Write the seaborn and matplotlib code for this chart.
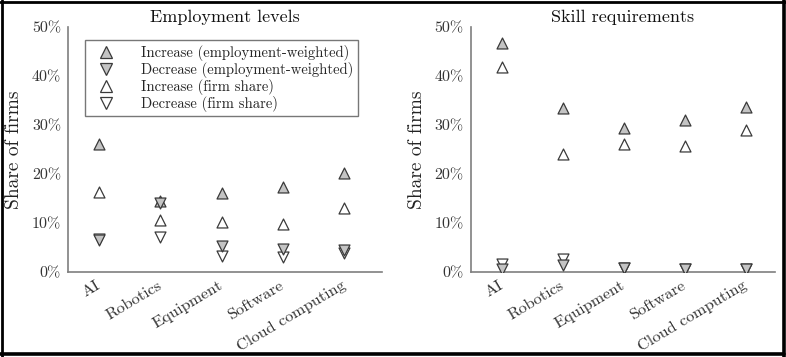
import matplotlib
matplotlib.use("Agg")
import matplotlib.pyplot as plt
import matplotlib.lines as mlines
import numpy as np
import pandas as pd
import seaborn as sns

sns.set_theme(style="white")
plt.rcParams['font.family'] = ['cmr10', 'DejaVu Serif']
plt.rcParams['mathtext.fontset'] = 'cm'
plt.rcParams['axes.unicode_minus'] = False

categories = ['AI', 'Robotics', 'Equipment', 'Software', 'Cloud computing']
yticks = [0, 10, 20, 30, 40, 50]
ytick_labels = ['0%', '10%', '20%', '30%', '40%', '50%']

# employment levels panel (% of firms)
emp_inc_w = [26.2, 14.5, 16.1, 17.3, 20.3]
emp_dec_w = [6.6, 14.1, 5.3, 4.7, 4.6]
emp_inc_f = [16.3, 10.6, 10.2, 9.9, 13.0]
emp_dec_f = [6.7, 7.2, 3.3, 3.1, 3.8]

# skill requirements panel (% of firms)
sk_inc_w = [46.7, 33.4, 29.5, 31.0, 33.6]
sk_dec_w = [0.7, 1.4, 0.9, 0.7, 0.6]
sk_inc_f = [41.9, 24.0, 26.2, 25.8, 29.1]
sk_dec_f = [1.7, 2.6, 0.9, 0.7, 0.6]

series_names = ['Increase (employment-weighted)', 'Decrease (employment-weighted)',
                'Increase (firm share)', 'Decrease (firm share)']

gray_face = '#c4c4c4'
edge = '#3a3a3a'
spine_col = '#7f7f7f'
styles = {
    'Increase (employment-weighted)': ('^', gray_face),
    'Decrease (employment-weighted)': ('v', gray_face),
    'Increase (firm share)': ('^', 'white'),
    'Decrease (firm share)': ('v', 'white'),
}
draw_order = ['Increase (firm share)', 'Decrease (firm share)',
              'Increase (employment-weighted)', 'Decrease (employment-weighted)']


def make_df(inc_w, dec_w, inc_f, dec_f):
    frames = []
    for name, vals in zip(series_names, [inc_w, dec_w, inc_f, dec_f]):
        frames.append(pd.DataFrame({'tech': categories, 'share': vals, 'series': name}))
    return pd.concat(frames, ignore_index=True)


def panel(ax, df, title, xlim):
    for name in draw_order:
        sub = df[df.series == name]
        mk, fc = styles[name]
        xs = [categories.index(t) for t in sub.tech]
        sns.scatterplot(x=xs, y=sub.share.values, marker=mk, s=62, color=fc,
                        edgecolor=edge, linewidth=0.9, ax=ax, zorder=3, legend=False)
    ax.set_xlim(xlim)
    ax.set_ylim(0, 50)
    ax.set_xticks(range(len(categories)))
    ax.set_xticklabels(categories, rotation=31, ha='right', va='center',
                       rotation_mode='anchor', fontsize=11.8, color='#333333')
    ax.set_yticks(yticks)
    ax.set_yticklabels(ytick_labels, fontsize=11.5, color='#333333')
    ax.tick_params(axis='both', length=0)
    ax.tick_params(axis='x', pad=9)
    ax.tick_params(axis='y', pad=5)
    for s in ['top', 'right']:
        ax.spines[s].set_visible(False)
    for s in ['left', 'bottom']:
        ax.spines[s].set_color(spine_col)
        ax.spines[s].set_linewidth(1.2)
    ax.set_ylabel('Share of firms', fontsize=14, color='#222222', labelpad=6)
    ax.set_xlabel('')
    ax.set_title(title, fontsize=13, pad=4, color='#111111')


fig = plt.figure(figsize=(7.86, 3.57), dpi=100)
ax1 = fig.add_axes([0.0865, 0.238, 0.3995, 0.686])
ax2 = fig.add_axes([0.599, 0.238, 0.387, 0.686])

panel(ax1, make_df(emp_inc_w, emp_dec_w, emp_inc_f, emp_dec_f), 'Employment levels', (-0.51, 4.62))
panel(ax2, make_df(sk_inc_w, sk_dec_w, sk_inc_f, sk_dec_f), 'Skill requirements', (-0.51, 4.48))

handles = []
for name in series_names:
    mk, fc = styles[name]
    handles.append(mlines.Line2D([], [], linestyle='none', marker=mk, markersize=8,
                                 markerfacecolor=fc, markeredgecolor=edge, markeredgewidth=0.9))
leg = ax1.legend(handles, series_names, loc='upper left', bbox_to_anchor=(0.054, 0.947),
                 borderaxespad=0, fontsize=10.6, frameon=True, fancybox=False,
                 handletextpad=1.2, labelspacing=0.08, borderpad=0.3, handlelength=2.3,
                 handleheight=0.6)
leg.get_frame().set_edgecolor('#555555')
leg.get_frame().set_linewidth(1.0)

# outer frame, heavier on right and bottom
W, H = 786.0, 357.0
fig.add_artist(mlines.Line2D([1.5 / W, 1.5 / W], [0, 1], color='black', lw=2, transform=fig.transFigure))
fig.add_artist(mlines.Line2D([0, 1], [1 - 1.5 / H, 1 - 1.5 / H], color='black', lw=2, transform=fig.transFigure))
fig.add_artist(mlines.Line2D([783.5 / W, 783.5 / W], [0, 1], color='black', lw=2.6, transform=fig.transFigure))
fig.add_artist(mlines.Line2D([0, 784 / W], [1 - 353.5 / H, 1 - 353.5 / H], color='black', lw=2.6, transform=fig.transFigure))

fig.savefig('out.png', dpi=100)
